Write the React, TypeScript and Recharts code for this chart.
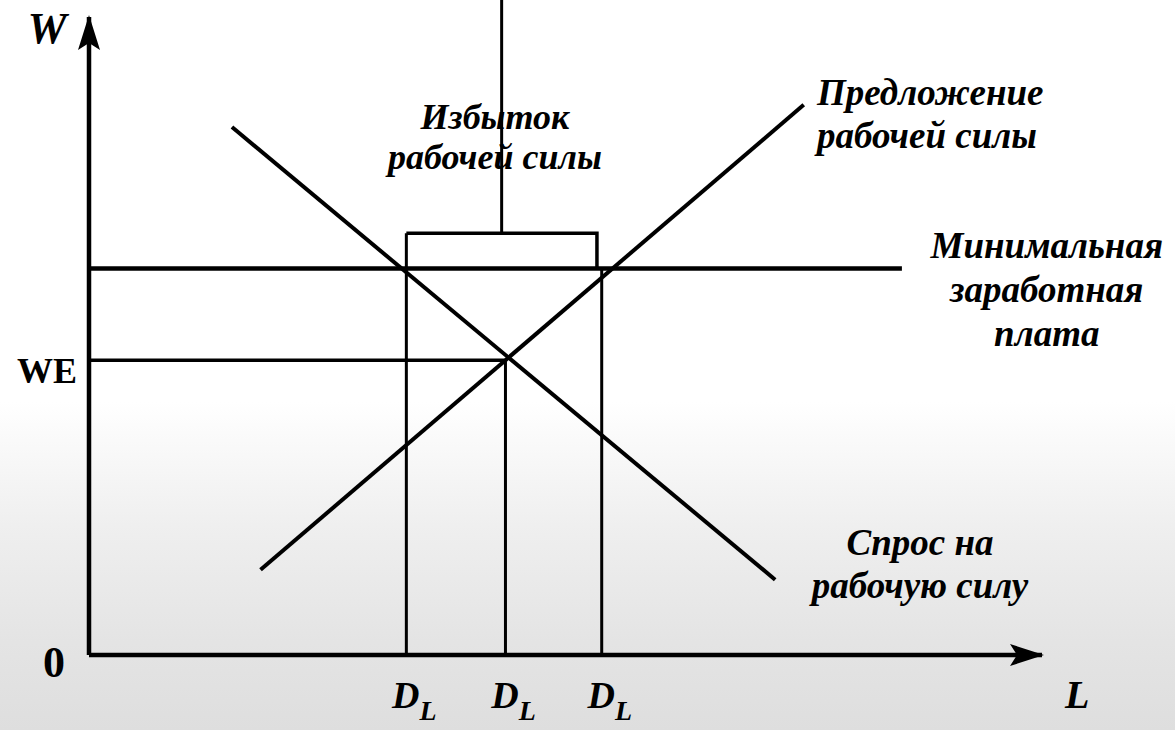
import React from "react";
import { ComposedChart, Line, XAxis, YAxis, ReferenceDot } from "recharts";

// Labour market with a minimum wage. Units: L (quantity of labour) 0–100, W (wage) 0–100.
const demandLine = [
  { l: 15, w: 80.6 },
  { l: 72, w: 11.5 },
];
const supplyLine = [
  { l: 18, w: 13 },
  { l: 75, w: 84 },
];
const minWage = 59;
const minWageEnd = 85.3;
const equilibriumWage = 45;
const quantities = [33.3, 43.7, 53.8]; // D_L marks: demand at min wage, equilibrium, supply at min wage
const bracketTop = 64.4;
const bracketRight = 53.3;
const bracketStem = 43.3;
const axisTopW = 97.4;
const axisEndL = 100;

const surplusLabel = ["Избыток", "рабочей силы"];
const supplyLabel = ["Предложение", "рабочей силы"];
const minWageLabel = ["Минимальная", "заработная", "плата"];
const demandLabel = ["Спрос на", "рабочую силу"];

const FONT = "'Liberation Serif', 'Times New Roman', serif";

const seg = (pts: [number, number][]) => pts.map(([l, w]) => ({ l, w }));

const yAxisLine = seg([[0, 0], [0, axisTopW]]);
const xAxisLine = seg([[0, 0], [axisEndL, 0]]);
const minWageLine = seg([[0, minWage], [minWageEnd, minWage]]);
const weLine = seg([[0, equilibriumWage], [quantities[1], equilibriumWage]]);
const dLeft = seg([[quantities[0], 0], [quantities[0], bracketTop]]);
const dMid = seg([[quantities[1], 0], [quantities[1], equilibriumWage]]);
const dRight = seg([[quantities[2], 0], [quantities[2], minWage]]);
const bracket = seg([[quantities[0], bracketTop], [bracketRight, bracketTop], [bracketRight, minWage]]);
const stem = seg([[bracketStem, bracketTop], [bracketStem, 100]]);

const arrowUp = (p: any) =>
  p.index === 1 ? (
    <path key="au" d={`M${p.cx},${p.cy - 2} L${p.cx - 11},${p.cy + 33} L${p.cx},${p.cy + 26} L${p.cx + 11},${p.cy + 33} Z`} fill="#000" />
  ) : (
    <g key={"a" + p.index} />
  );

const arrowRight = (p: any) =>
  p.index === 1 ? (
    <path key="ar" d={`M${p.cx + 2},${p.cy} L${p.cx - 32},${p.cy - 11} L${p.cx - 25},${p.cy} L${p.cx - 32},${p.cy + 11} Z`} fill="#000" />
  ) : (
    <g key={"r" + p.index} />
  );

const textBlock = (lines: string[], anchor: "start" | "middle" | "end", size: number, gap: number) => (p: any) => (
  <text x={p.cx} y={p.cy} textAnchor={anchor} fontFamily={FONT} fontStyle="italic" fontWeight="bold" fontSize={size} fill="#000">
    {lines.map((t, i) => (
      <tspan key={i} x={p.cx} dy={i === 0 ? 0 : gap}>
        {t}
      </tspan>
    ))}
  </text>
);

const QuantityTick = (p: any) => (
  <text x={p.x} y={p.y} fontFamily={FONT} fontStyle="italic" fontWeight="bold" fill="#000" textAnchor="middle">
    <tspan fontSize={38} dx={8} dy={45}>D</tspan>
    <tspan fontSize={28} dy={12}>L</tspan>
  </text>
);

const WageTick = (p: any) =>
  p.payload.value === 0 ? (
    <text x={p.x - 27} y={p.y + 22} fontFamily={FONT} fontWeight="bold" fontSize={44} textAnchor="middle" fill="#000">
      0
    </text>
  ) : (
    <text x={p.x - 4} y={p.y + 23} fontFamily={FONT} fontWeight="bold" fontSize={36} textAnchor="end" fill="#000">
      WE
    </text>
  );

const lineProps = { type: "linear" as const, dataKey: "w", dot: false, activeDot: false, isAnimationActive: false, stroke: "#000" };

export default function App() {
  return (
    <div
      style={{
        position: "fixed",
        left: 0,
        top: 0,
        width: 1175,
        height: 730,
        background: "linear-gradient(180deg, #ffffff 0%, #ffffff 55%, #efefef 72%, #e4e4e4 88%, #dedede 100%)",
      }}
    >
      <ComposedChart width={1175} height={730} margin={{ top: 0, right: 133, bottom: 0, left: 0 }}>
        <XAxis
          dataKey="l"
          type="number"
          domain={[0, 100]}
          ticks={quantities}
          tick={<QuantityTick />}
          axisLine={false}
          tickLine={false}
          height={75}
        />
        <YAxis
          dataKey="w"
          type="number"
          domain={[0, 100]}
          ticks={[0, equilibriumWage]}
          tick={<WageTick />}
          axisLine={false}
          tickLine={false}
          width={89}
        />

        <Line {...lineProps} data={minWageLine} strokeWidth={4.5} />
        <Line {...lineProps} data={weLine} strokeWidth={3.5} />
        <Line {...lineProps} data={dLeft} strokeWidth={3} />
        <Line {...lineProps} data={dMid} strokeWidth={3} />
        <Line {...lineProps} data={dRight} strokeWidth={3} />
        <Line {...lineProps} data={bracket} strokeWidth={3.5} />
        <Line {...lineProps} data={stem} strokeWidth={3} />
        <Line {...lineProps} data={demandLine} strokeWidth={4} />
        <Line {...lineProps} data={supplyLine} strokeWidth={4} />
        <Line {...lineProps} data={yAxisLine} strokeWidth={4.5} dot={arrowUp} />
        <Line {...lineProps} data={xAxisLine} strokeWidth={4.5} dot={arrowRight} />

        <ReferenceDot x={42.6} y={80.3} r={0} ifOverflow="visible" shape={textBlock(surplusLabel, "middle", 36, 40)} />
        <ReferenceDot x={76.4} y={84} r={0} ifOverflow="visible" shape={textBlock(supplyLabel, "start", 37, 43)} />
        <ReferenceDot x={100.5} y={60.6} r={0} ifOverflow="visible" shape={textBlock(minWageLabel, "middle", 37, 44)} />
        <ReferenceDot x={87.2} y={15.3} r={0} ifOverflow="visible" shape={textBlock(demandLabel, "middle", 37, 43)} />
        <ReferenceDot x={-4.4} y={93.4} r={0} ifOverflow="visible" shape={textBlock(["W"], "middle", 44, 0)} />
        <ReferenceDot x={103.7} y={-8.1} r={0} ifOverflow="visible" shape={textBlock(["L"], "middle", 40, 0)} />
      </ComposedChart>
    </div>
  );
}
